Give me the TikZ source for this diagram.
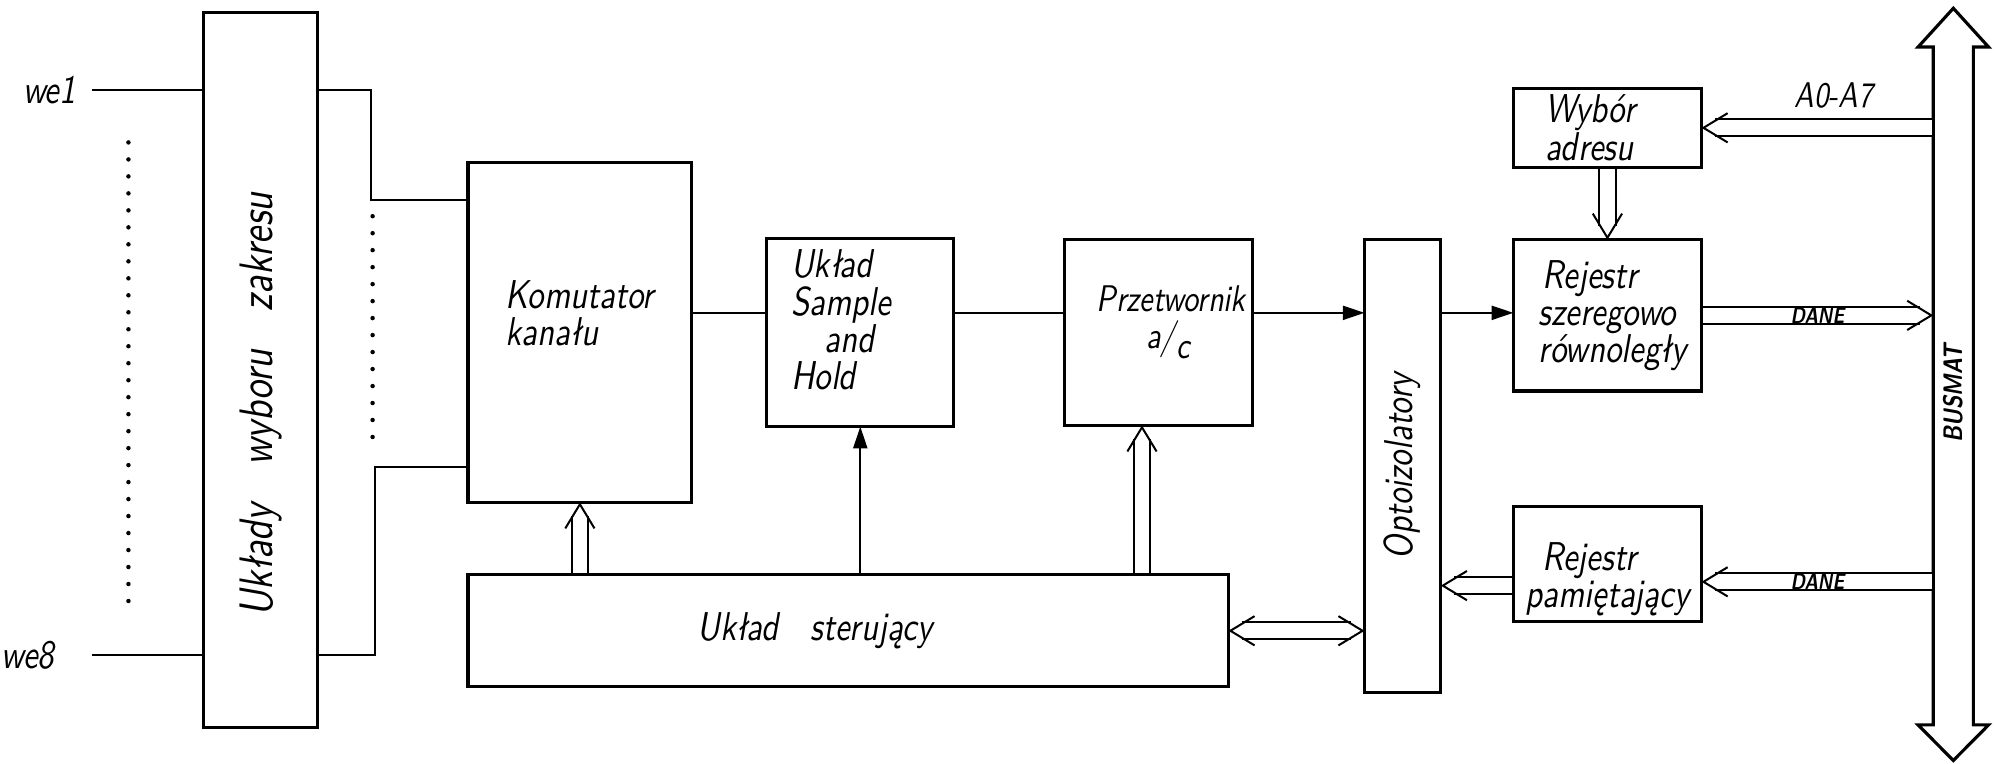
\documentclass[tikz,border=0pt]{standalone}
\usepackage{fontspec}
\newfontfamily\handfont{lmsans10-oblique.otf}[FakeStretch=0.82, BoldFont=lmsans10-boldoblique.otf]
\usetikzlibrary{arrows.meta, positioning}

\begin{document}
\begin{tikzpicture}[
    node distance=0.57cm and 0.59cm,
    box/.style={rectangle, draw, line width=0.7pt, outer sep=0pt, inner xsep=2mm, inner ysep=0pt, align=left, font=\handfont\fontsize{9}{8.3}\selectfont},
    txt/.style={align=left, font=\handfont\fontsize{9}{8.3}\selectfont},
    vtext/.style={rotate=90, font=\handfont\fontsize{10.5}{12}\selectfont},
    wire/.style={line width=0.45pt},
    arr/.style={wire, -{Triangle[length=1.7mm, width=1.1mm]}},
    barb/.tip={Straight Barb[length=1.9mm, width=2.3mm, color=black]},
    dbl/.style={draw=white, line width=0.45pt, shorten <=0.4pt, -{barb},
        preaction={draw=black, double=white, double distance=1.15mm, arrows=-, shorten >=1.05mm}},
    dblboth/.style={draw=white, line width=0.45pt, {barb}-{barb},
        preaction={draw=black, double=white, double distance=1.15mm, arrows=-, shorten >=1.05mm, shorten <=1.05mm}},
    dots/.style={line width=1pt, line cap=round, dash pattern=on 0pt off 3.8pt},
    inlabel/.style={font=\handfont\fontsize{9}{10}\selectfont},
    tag/.style={font=\handfont\bfseries\fontsize{5}{6}\selectfont, inner sep=0pt}
]
\useasboundingbox (0,0) rectangle (15.68,-6.00);

% Input side
\node[box, minimum width=0.9cm, minimum height=5.62cm,
      label={[yshift=-2.7mm, vtext]center:Układy\hspace{3mm}wyboru\hspace{3mm}zakresu}] (zakres) at (2.05,-2.91) {};
\node[inlabel, anchor=east] (we1) at (0.72,-0.71) {we1};
\node[inlabel, anchor=east] (we8) at (0.55,-5.15) {we8};
\draw[wire] (we1.east) -- (zakres.west |- we1);
\draw[wire] (we8.east -| we1.east) -- (zakres.west |- we8);
\draw[dots] (1.01,-1.12) -- (1.01,-4.80);

% Measuring chain
\node[box, minimum width=1.76cm, minimum height=2.67cm,
      label={[txt, yshift=1.5mm]center:Komutator\\kanału}] (kom) at (4.56,-2.615) {};
\node[box, minimum width=1.47cm, minimum height=1.48cm, right=0.59cm of kom,
      label={[txt, xshift=-1.5mm, yshift=1mm]center:Układ\\Sample\\\hspace*{2.6mm}and\\Hold}] (sh) {};
\node[box, minimum width=1.48cm, minimum height=1.46cm, right=0.87cm of sh,
      label={[txt, font=\handfont\fontsize{8.3}{8.3}\selectfont, xshift=1mm, yshift=0.8mm]center:Przetwornik\\\hspace*{3.9mm}a/\raisebox{-0.6ex}{c}}] (adc) {};
\node[box, minimum width=0.60cm, minimum height=3.56cm, right=0.88cm of adc.north east, anchor=north west,
      label={[vtext, font=\handfont\fontsize{9}{11}\selectfont]center:Optoizolatory}] (opto) {};
\node[box, minimum width=5.98cm, minimum height=0.88cm, below=0.57cm of kom.south west, anchor=north west,
      label={[txt, xshift=-2.6mm]center:Układ\hspace{2.5mm}sterujący}] (ster) {};

% Bus side
\node[box, text width=1.08cm, minimum height=1.19cm, right=0.57cm of opto.north east, anchor=north west] (rsz) {\hspace*{0.3mm}Rejestr\\szeregowo\\równoległy};
\node[box, text width=0.98cm, inner xsep=2.5mm, minimum height=0.62cm, above=0.57cm of rsz] (wyb) {Wybór\\adresu};
\node[box, minimum width=1.48cm, minimum height=0.90cm, below=0.91cm of rsz,
      label={[txt, yshift=-1.2mm]center:\hspace*{1.3mm}Rejestr\\pamiętający}] (rpam) {};
\node[minimum width=0.315cm, minimum height=5.33cm, inner sep=0pt, outer sep=0pt,
      label={[yshift=-0.6mm, rotate=90, font=\handfont\bfseries\fontsize{6}{7}\selectfont]center:BUSMAT}] (bus) at (15.36,-3.035) {};
\draw[line width=0.7pt] (bus.south west) -- (bus.north west) -- ++(-0.12,0) -- ([yshift=0.305cm]bus.north)
    -- ([xshift=0.12cm]bus.north east) -- (bus.north east) -- (bus.south east) -- ++(0.12,0)
    -- ([yshift=-0.28cm]bus.south) -- ([xshift=-0.12cm]bus.south west) -- cycle;

% Connections
\draw[wire] (zakres.east |- we1) -- ++(0.42,0) |- ([yshift=-0.29cm]kom.north west);
\draw[wire] (zakres.east |- we8) -- ++(0.45,0) |- ([yshift=0.28cm]kom.south west);
\draw[dots] (2.93,-1.70) -- (2.93,-3.55);

\coordinate (sig) at (0,-2.46);
\draw[wire] (kom.east |- sig) -- (sh.west |- sig);
\draw[wire] (sh.east |- sig) -- (adc.west |- sig);
\draw[arr] (adc.east |- sig) -- (opto.west |- sig);
\draw[arr] (opto.east |- sig) -- (rsz.west |- sig);

\draw[dbl] (kom.south |- ster.north) -- (kom.south);
\draw[arr] (sh.south |- ster.north) -- (sh.south);
\draw[dbl] ([xshift=-0.13cm]adc.south |- ster.north) -- ([xshift=-0.13cm]adc.south);
\draw[dblboth] (ster.east) -- (opto.west |- ster.east);

\draw[dbl] (rsz.east) -- (bus.west |- rsz.east) node[tag, midway] (dane1) {DANE};
\draw[dbl] (bus.west |- wyb.east) -- (wyb.east) node[inlabel, font=\handfont\fontsize{8}{9}\selectfont, above=0.3mm, pos=0.43] (addr) {A0-A7};
\draw[dbl] (wyb.south) -- (rsz.north);
\draw[dbl] ([yshift=-0.14cm]bus.west |- rpam.east) -- ([yshift=-0.14cm]rpam.east) node[tag, midway] (dane2) {DANE};
\draw[dbl] ([yshift=-0.17cm]rpam.west) -- ([yshift=-0.17cm]opto.east |- rpam.west);
\end{tikzpicture}
\end{document}
